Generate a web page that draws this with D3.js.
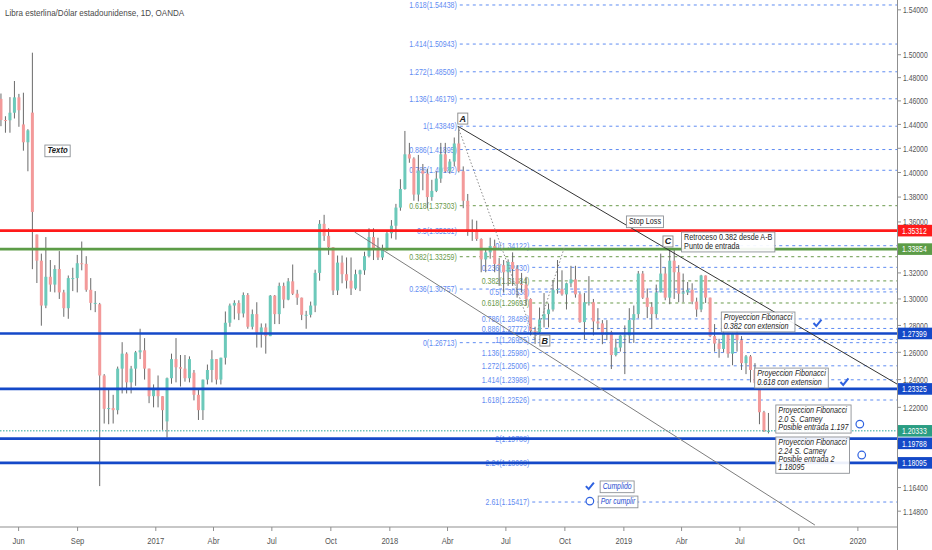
<!DOCTYPE html>
<html>
<head>
<meta charset="utf-8">
<script src="https://cdn.jsdelivr.net/npm/d3@7"></script>
<style>
  body { margin: 0; background: #fff; }
  text { font-family: "Liberation Sans", Arial, sans-serif; }
</style>
</head>
<body>
<svg id="chart" width="932" height="550"></svg>
<script>
// Velas semanales GBP/USD: [lunes, apertura, maximo, minimo, cierre]
const ohlc2016 = [
  ['2016-05-02', 1.4617, 1.4663, 1.4385, 1.4437], ['2016-05-09', 1.4437, 1.4469, 1.4330, 1.4435],
  ['2016-05-16', 1.4435, 1.4632, 1.4330, 1.4499], ['2016-05-23', 1.4499, 1.4771, 1.4450, 1.4630],
  ['2016-05-30', 1.4630, 1.4660, 1.4380, 1.4520], ['2016-06-06', 1.4400, 1.4670, 1.4180, 1.4250],
  ['2016-06-13', 1.4250, 1.4360, 1.4010, 1.4350], ['2016-06-20', 1.4500, 1.5018, 1.3229, 1.3680],
  ['2016-06-27', 1.3500, 1.3500, 1.3122, 1.3295], ['2016-07-04', 1.3295, 1.3350, 1.2798, 1.2950],
  ['2016-07-11', 1.2950, 1.3480, 1.2930, 1.3170], ['2016-07-18', 1.3170, 1.3300, 1.3055, 1.3110],
  ['2016-07-25', 1.3110, 1.3260, 1.3050, 1.3230], ['2016-08-01', 1.3230, 1.3370, 1.3000, 1.3050],
  ['2016-08-08', 1.3050, 1.3070, 1.2865, 1.2930], ['2016-08-15', 1.2930, 1.3180, 1.2850, 1.3160],
  ['2016-08-22', 1.3160, 1.3240, 1.3060, 1.3160], ['2016-08-29', 1.3160, 1.3340, 1.3050, 1.3275],
  ['2016-09-05', 1.3275, 1.3445, 1.3220, 1.3270], ['2016-09-12', 1.3270, 1.3330, 1.3055, 1.3070],
  ['2016-09-19', 1.3070, 1.3160, 1.2915, 1.2970], ['2016-09-26', 1.2970, 1.3060, 1.2900, 1.2970],
  ['2016-10-03', 1.2960, 1.2970, 1.1650, 1.2430], ['2016-10-10', 1.2430, 1.2440, 1.2085, 1.2190],
  ['2016-10-17', 1.2190, 1.2335, 1.2080, 1.2195], ['2016-10-24', 1.2195, 1.2290, 1.2085, 1.2180],
  ['2016-10-31', 1.2180, 1.2495, 1.2150, 1.2480], ['2016-11-07', 1.2480, 1.2675, 1.2300, 1.2590],
  ['2016-11-14', 1.2590, 1.2600, 1.2300, 1.2380], ['2016-11-21', 1.2380, 1.2500, 1.2300, 1.2480],
  ['2016-11-28', 1.2480, 1.2610, 1.2355, 1.2600], ['2016-12-05', 1.2600, 1.2775, 1.2550, 1.2615],
  ['2016-12-12', 1.2615, 1.2705, 1.2400, 1.2480], ['2016-12-19', 1.2480, 1.2480, 1.2230, 1.2280],
  ['2016-12-26', 1.2280, 1.2365, 1.2200, 1.2340]
]
const ohlc2017 = [
  ['2017-01-02', 1.2340, 1.2430, 1.2200, 1.2280], ['2017-01-09', 1.2280, 1.2280, 1.2040, 1.2180],
  ['2017-01-16', 1.2100, 1.2415, 1.1986, 1.2410], ['2017-01-23', 1.2410, 1.2590, 1.2370, 1.2550],
  ['2017-01-30', 1.2550, 1.2705, 1.2380, 1.2490], ['2017-02-06', 1.2490, 1.2580, 1.2350, 1.2480],
  ['2017-02-13', 1.2480, 1.2580, 1.2385, 1.2410], ['2017-02-20', 1.2410, 1.2570, 1.2380, 1.2550],
  ['2017-02-27', 1.2450, 1.2470, 1.2250, 1.2290], ['2017-03-06', 1.2290, 1.2330, 1.2110, 1.2180],
  ['2017-03-13', 1.2180, 1.2400, 1.2110, 1.2400], ['2017-03-20', 1.2400, 1.2510, 1.2365, 1.2470],
  ['2017-03-27', 1.2470, 1.2615, 1.2380, 1.2550], ['2017-04-03', 1.2550, 1.2550, 1.2365, 1.2400],
  ['2017-04-10', 1.2400, 1.2560, 1.2365, 1.2560], ['2017-04-17', 1.2560, 1.2905, 1.2510, 1.2820],
  ['2017-04-24', 1.2820, 1.2965, 1.2790, 1.2950], ['2017-05-01', 1.2950, 1.2990, 1.2845, 1.2970],
  ['2017-05-08', 1.2970, 1.2990, 1.2840, 1.2890], ['2017-05-15', 1.2890, 1.3050, 1.2860, 1.3030],
  ['2017-05-22', 1.3030, 1.3045, 1.2775, 1.2790], ['2017-05-29', 1.2790, 1.2920, 1.2770, 1.2885],
  ['2017-06-05', 1.2885, 1.2975, 1.2635, 1.2745], ['2017-06-12', 1.2745, 1.2815, 1.2635, 1.2785],
  ['2017-06-19', 1.2785, 1.2815, 1.2590, 1.2720], ['2017-06-26', 1.2720, 1.3030, 1.2720, 1.3025],
  ['2017-07-03', 1.3025, 1.3030, 1.2810, 1.2885], ['2017-07-10', 1.2885, 1.3125, 1.2810, 1.3100],
  ['2017-07-17', 1.3100, 1.3125, 1.2930, 1.2995], ['2017-07-24', 1.2995, 1.3160, 1.2990, 1.3135],
  ['2017-07-31', 1.3135, 1.3265, 1.3030, 1.3040], ['2017-08-07', 1.3040, 1.3070, 1.2955, 1.3010],
  ['2017-08-14', 1.3010, 1.3010, 1.2840, 1.2880], ['2017-08-21', 1.2880, 1.2910, 1.2775, 1.2880],
  ['2017-08-28', 1.2880, 1.2980, 1.2860, 1.2950], ['2017-09-04', 1.2950, 1.3225, 1.2900, 1.3200],
  ['2017-09-11', 1.3200, 1.3615, 1.3140, 1.3585], ['2017-09-18', 1.3585, 1.3657, 1.3450, 1.3490],
  ['2017-09-25', 1.3490, 1.3550, 1.3340, 1.3400], ['2017-10-02', 1.3400, 1.3400, 1.3030, 1.3065],
  ['2017-10-09', 1.3065, 1.3335, 1.3030, 1.3280], ['2017-10-16', 1.3280, 1.3335, 1.3120, 1.3190],
  ['2017-10-23', 1.3190, 1.3320, 1.3080, 1.3140], ['2017-10-30', 1.3140, 1.3320, 1.3030, 1.3080],
  ['2017-11-06', 1.3080, 1.3225, 1.3070, 1.3190], ['2017-11-13', 1.3190, 1.3225, 1.3060, 1.3220],
  ['2017-11-20', 1.3220, 1.3365, 1.3185, 1.3330], ['2017-11-27', 1.3330, 1.3550, 1.3320, 1.3480],
  ['2017-12-04', 1.3480, 1.3550, 1.3300, 1.3385], ['2017-12-11', 1.3385, 1.3475, 1.3300, 1.3320],
  ['2017-12-18', 1.3320, 1.3420, 1.3300, 1.3380], ['2017-12-25', 1.3380, 1.3525, 1.3370, 1.3510]
]
const ohlc2018 = [
  ['2018-01-01', 1.3510, 1.3615, 1.3470, 1.3570], ['2018-01-08', 1.3570, 1.3745, 1.3460, 1.3715],
  ['2018-01-15', 1.3715, 1.3945, 1.3690, 1.3865], ['2018-01-22', 1.3865, 1.4345, 1.3860, 1.4150],
  ['2018-01-29', 1.4150, 1.4245, 1.4080, 1.4115], ['2018-02-05', 1.4115, 1.4125, 1.3770, 1.3820],
  ['2018-02-12', 1.3820, 1.4145, 1.3765, 1.4015], ['2018-02-19', 1.4015, 1.4070, 1.3855, 1.3990],
  ['2018-02-26', 1.3990, 1.4030, 1.3710, 1.3800], ['2018-03-05', 1.3800, 1.3940, 1.3770, 1.3850],
  ['2018-03-12', 1.3850, 1.4010, 1.3840, 1.3950], ['2018-03-19', 1.3950, 1.4245, 1.3915, 1.4150],
  ['2018-03-26', 1.4150, 1.4245, 1.4000, 1.4010], ['2018-04-02', 1.4010, 1.4110, 1.3990, 1.4090],
  ['2018-04-09', 1.4090, 1.4290, 1.4050, 1.4240], ['2018-04-16', 1.4240, 1.4377, 1.4000, 1.4010],
  ['2018-04-23', 1.4010, 1.4050, 1.3710, 1.3770], ['2018-04-30', 1.3770, 1.3825, 1.3490, 1.3535],
  ['2018-05-07', 1.3535, 1.3620, 1.3450, 1.3535], ['2018-05-14', 1.3535, 1.3610, 1.3450, 1.3465],
  ['2018-05-21', 1.3465, 1.3470, 1.3205, 1.3305], ['2018-05-28', 1.3305, 1.3385, 1.3205, 1.3360],
  ['2018-06-04', 1.3360, 1.3475, 1.3310, 1.3410], ['2018-06-11', 1.3410, 1.3460, 1.3205, 1.3270],
  ['2018-06-18', 1.3270, 1.3315, 1.3100, 1.3260], ['2018-06-25', 1.3260, 1.3300, 1.3050, 1.3205],
  ['2018-07-02', 1.3205, 1.3305, 1.3100, 1.3285], ['2018-07-09', 1.3285, 1.3360, 1.3100, 1.3230],
  ['2018-07-16', 1.3230, 1.3260, 1.3010, 1.3115], ['2018-07-23', 1.3115, 1.3200, 1.3050, 1.3110],
  ['2018-07-30', 1.3110, 1.3170, 1.2950, 1.3000], ['2018-08-06', 1.3000, 1.3005, 1.2725, 1.2760],
  ['2018-08-13', 1.2760, 1.2790, 1.2662, 1.2750], ['2018-08-20', 1.2750, 1.2935, 1.2745, 1.2845],
  ['2018-08-27', 1.2845, 1.3045, 1.2785, 1.2885], ['2018-09-03', 1.2885, 1.2965, 1.2785, 1.2920],
  ['2018-09-10', 1.2920, 1.3145, 1.2905, 1.3070], ['2018-09-17', 1.3070, 1.3300, 1.3040, 1.3075],
  ['2018-09-24', 1.3075, 1.3220, 1.3025, 1.3035], ['2018-10-01', 1.3035, 1.3125, 1.2920, 1.3120],
  ['2018-10-08', 1.3120, 1.3255, 1.3090, 1.3150], ['2018-10-15', 1.3150, 1.3255, 1.3010, 1.3035],
  ['2018-10-22', 1.3035, 1.3050, 1.2820, 1.2825], ['2018-10-29', 1.2825, 1.3045, 1.2695, 1.2975],
  ['2018-11-05', 1.2975, 1.3175, 1.2950, 1.2975], ['2018-11-12', 1.2975, 1.3000, 1.2725, 1.2830],
  ['2018-11-19', 1.2830, 1.2930, 1.2770, 1.2815], ['2018-11-26', 1.2815, 1.2840, 1.2660, 1.2730],
  ['2018-12-03', 1.2730, 1.2840, 1.2690, 1.2750], ['2018-12-10', 1.2750, 1.2760, 1.2477, 1.2580],
  ['2018-12-17', 1.2580, 1.2700, 1.2570, 1.2635], ['2018-12-24', 1.2635, 1.2730, 1.2605, 1.2725],
  ['2018-12-31', 1.2725, 1.2800, 1.2440, 1.2725]
]
const ohlc2019 = [
  ['2019-01-07', 1.2725, 1.2930, 1.2670, 1.2840], ['2019-01-14', 1.2840, 1.2950, 1.2670, 1.2885],
  ['2019-01-21', 1.2885, 1.3215, 1.2855, 1.3195], ['2019-01-28', 1.3195, 1.3215, 1.3000, 1.3010],
  ['2019-02-04', 1.3010, 1.3080, 1.2855, 1.2940], ['2019-02-11', 1.2940, 1.2975, 1.2775, 1.2885],
  ['2019-02-18', 1.2885, 1.3110, 1.2855, 1.3050], ['2019-02-25', 1.3050, 1.3350, 1.3050, 1.3195],
  ['2019-03-04', 1.3195, 1.3245, 1.2990, 1.3010], ['2019-03-11', 1.3010, 1.3381, 1.2960, 1.3295],
  ['2019-03-18', 1.3295, 1.3380, 1.3000, 1.3205], ['2019-03-25', 1.3205, 1.3260, 1.2975, 1.3040],
  ['2019-04-01', 1.3040, 1.3195, 1.2975, 1.3050], ['2019-04-08', 1.3050, 1.3130, 1.3030, 1.3070],
  ['2019-04-15', 1.3070, 1.3120, 1.2960, 1.2980], ['2019-04-22', 1.2980, 1.3010, 1.2865, 1.2920],
  ['2019-04-29', 1.2920, 1.3185, 1.2900, 1.3180], ['2019-05-06', 1.3180, 1.3180, 1.2970, 1.3010],
  ['2019-05-13', 1.3010, 1.3010, 1.2712, 1.2720], ['2019-05-20', 1.2720, 1.2810, 1.2605, 1.2665],
  ['2019-05-27', 1.2665, 1.2700, 1.2560, 1.2625], ['2019-06-03', 1.2625, 1.2760, 1.2600, 1.2740],
  ['2019-06-10', 1.2740, 1.2745, 1.2560, 1.2590], ['2019-06-17', 1.2590, 1.2745, 1.2505, 1.2740],
  ['2019-06-24', 1.2740, 1.2785, 1.2605, 1.2690], ['2019-07-01', 1.2690, 1.2720, 1.2470, 1.2520],
  ['2019-07-08', 1.2520, 1.2580, 1.2440, 1.2570], ['2019-07-15', 1.2570, 1.2580, 1.2380, 1.2470],
  ['2019-07-22', 1.2470, 1.2520, 1.2370, 1.2375], ['2019-07-29', 1.2375, 1.2425, 1.2080, 1.2165],
  ['2019-08-05', 1.2165, 1.2175, 1.2025, 1.2030], ['2019-08-12', 1.2030, 1.2160, 1.2015, 1.2033]
]

// Retroceso Fibonacci A-B
const fib1Start = '2018-04-17'
const fib1Ratios = [1.618, 1.414, 1.272, 1.136, 1, 0.886, 0.786, 0.618, 0.5, 0.382, 0.236, 0]
const fib1Prices = [1.54438, 1.50943, 1.48509, 1.46179, 1.43849, 1.41895, 1.40182, 1.37303, 1.35281, 1.33259, 1.30757, 1.26713]
// Proyeccion Fibonacci B-C
const fib2Start = '2018-08-08'
const fib2Ratios = [0, 0.236, 0.382, 0.5, 0.618, 0.786, 0.886, 1, 1.136, 1.272, 1.414, 1.618, 2, 2.24, 2.61]
const fib2Prices = [1.34122, 1.32430, 1.31384, 1.30538, 1.29693, 1.28489, 1.27772, 1.26955, 1.25980, 1.25006, 1.23988, 1.22526, 1.19788, 1.18068, 1.15417]

// Niveles horizontales
const levelPrices = [1.35312, 1.33854, 1.27399, 1.23325, 1.19788, 1.18095]
const levelKinds = ['stop', 'entrada', 'objetivo', 'objetivo', 'objetivo', 'objetivo']
const lastPrice = 1.20333

// Lineas de tendencia [fecha, precio]
const trendA = [['2018-04-17', 1.43849], ['2020-03-02', 1.2368]]
const channelLow = [['2017-11-07', 1.3520], ['2019-10-26', 1.1387]]
const legAB = [['2018-04-17', 1.43849], ['2018-08-15', 1.26955]]
const legBC = [['2018-08-15', 1.26955], ['2018-10-01', 1.34122]]

// Puntos A, B, C
const pointNames = ['A', 'B', 'C']
const pointDates = ['2018-04-17', '2018-08-23', '2019-03-03']
const pointPrices = [1.4496, 1.2728, 1.3489]

// Notas de texto
const noteLines = [
  ['Texto'],
  ['Stop Loss'],
  ['Retroceso 0.382 desde A-B', 'Punto de entrada'],
  ['Proyeccion Fibonacci', '0.382 con extension'],
  ['Proyeccion Fibonacci', '0.618 con extension'],
  ['Proyeccion Fibonacci', '2.0 S. Carney', 'Posible entrada 1.197'],
  ['Proyeccion Fibonacci', '2.24 S. Carney', 'Posible entrada 2', '1.18095']
]
const noteDates = ['2016-07-12', '2019-01-05', '2019-04-01', '2019-06-02', '2019-07-24', '2019-08-26', '2019-08-26']
const notePrices = [1.4227, 1.3648, 1.3520, 1.2901, 1.2484, 1.2217, 1.1990]
const noteItalic = [true, false, false, true, true, true, true]

// Marcas: cumplido / por cumplir
const checkDates = ['2019-10-30', '2019-12-11', '2018-11-09']
const checkPrices = [1.2818, 1.2383, 1.1650]
const ringDates = ['2020-01-04', '2020-01-07', '2018-11-09']
const ringPrices = [1.2081, 1.1864, 1.1548]
const legendLabels = ['Cumplido', 'Por cumplir']
const legendDates = ['2018-11-25', '2018-11-22']
const legendPrices = [1.1685, 1.1582]

// Ejes (1.34, 1.20 y 1.18 quedan tapados por las etiquetas de precio)
const yTicks = [1.54, 1.50, 1.48, 1.46, 1.44, 1.42, 1.40, 1.38, 1.36, 1.32, 1.30, 1.28, 1.26, 1.24, 1.22, 1.164, 1.148]
const xTickDates = ['2016-06-01', '2016-09-01', '2017-01-01', '2017-04-01', '2017-07-01', '2017-10-01', '2018-01-01',
  '2018-04-01', '2018-07-01', '2018-10-01', '2019-01-01', '2019-04-01', '2019-07-01', '2019-10-01', '2020-01-01']
const xTickLabels = ['Jun', 'Sep', '2017', 'Abr', 'Jul', 'Oct', '2018', 'Abr', 'Jul', 'Oct', '2019', 'Abr', 'Jul', 'Oct', '2020']
const title = 'Libra esterlina/Dólar estadounidense, 1D, OANDA'

const W = 932, H = 550, plotW = 897, plotH = 527
const parse = d3.utcParse('%Y-%m-%d')
const x = d3.scaleUtc().domain([parse('2016-05-03'), parse('2020-03-02')]).range([0, plotW])
const y = d3.scaleLog().domain([1.1374, 1.5489]).range([plotH, 0])

const BLUE_FIB = '#5f8cf2', GREEN_FIB = '#6a9a4c', MARK = '#2f62e0'
const levelColor = { stop: '#ff1a1a', entrada: '#5c9c47', objetivo: '#1449c8' }

const svg = d3.select('#chart')

/**
 * Texto comprimido horizontalmente (la fuente de la captura es estrecha)
 */
function addText (g, px, py, k, str) {
  return g.append('text').attr('transform', `translate(${px},${py}) scale(${k},1)`).text(str)
}

function drawFib (g, start, ratios, prices) {
  const x0 = x(parse(start))
  ratios.forEach((r, i) => {
    const col = (r === 0.618 || r === 0.382) ? GREEN_FIB : BLUE_FIB
    const yy = y(prices[i])
    g.append('line').attr('x1', x0 + 2).attr('x2', plotW).attr('y1', yy).attr('y2', yy)
      .attr('stroke', col).attr('stroke-width', 1).attr('stroke-dasharray', '3,3.5')
    addText(g, x0 - 1, yy, 0.78, r + '(' + prices[i].toFixed(5) + ')')
      .attr('dy', '0.35em').attr('text-anchor', 'end').attr('font-size', 9).attr('fill', col)
  })
}

function drawCandles (g, rows) {
  const cx = d => x(d3.utcHour.offset(parse(d[0]), 60))
  const c = g.selectAll(null).data(rows).enter().append('g')
  c.append('line')
    .attr('x1', cx).attr('x2', cx)
    .attr('y1', d => y(d[2])).attr('y2', d => y(d[3]))
    .attr('stroke', '#6a6a6a').attr('stroke-width', 1)
  c.append('rect')
    .attr('x', d => cx(d) - 1.5).attr('width', 3)
    .attr('y', d => y(Math.max(d[1], d[4])))
    .attr('height', d => Math.max(1, y(Math.min(d[1], d[4])) - y(Math.max(d[1], d[4]))))
    .attr('fill', d => d[4] >= d[1] ? '#6cc9ba' : '#f39a9a')
}

function drawSegment (g, pts, stroke, dash) {
  g.append('line')
    .attr('x1', x(parse(pts[0][0]))).attr('y1', y(pts[0][1]))
    .attr('x2', x(parse(pts[1][0]))).attr('y2', y(pts[1][1]))
    .attr('stroke', stroke).attr('stroke-width', 1).attr('stroke-dasharray', dash)
}

function drawNote (g, lines, x0, y0, opts) {
  const n = g.append('g')
  const box = n.append('rect').attr('fill', '#fff').attr('fill-opacity', 0.92)
    .attr('stroke', '#8d9196').attr('stroke-width', 0.9)
  let wMax = 0
  lines.forEach((s, i) => {
    const t = addText(n, x0 + 2.5, y0 + 8.4 + i * 8.2, opts.k, s)
      .attr('font-size', opts.size || 8.6).attr('font-style', opts.italic ? 'italic' : 'normal')
      .attr('font-weight', opts.bold ? 'bold' : 'normal')
      .attr('font-family', opts.font).attr('fill', opts.fill)
    wMax = Math.max(wMax, t.node().getComputedTextLength() * opts.k)
  })
  box.attr('x', x0).attr('y', y0).attr('width', wMax + 5).attr('height', lines.length * 8.2 + 3.5)
}

function drawCheck (g, cx, cy) {
  g.append('path').attr('d', `M${cx - 4},${cy} L${cx - 1.2},${cy + 3} L${cx + 4},${cy - 3.5}`)
    .attr('fill', 'none').attr('stroke', MARK).attr('stroke-width', 2)
}

function drawRing (g, cx, cy) {
  g.append('circle').attr('cx', cx).attr('cy', cy).attr('r', 3.8)
    .attr('fill', '#fff').attr('stroke', MARK).attr('stroke-width', 1.2)
}

// Fibonacci (debajo de todo)
const fibG = svg.append('g')
drawFib(fibG, fib1Start, fib1Ratios, fib1Prices)
drawFib(fibG, fib2Start, fib2Ratios, fib2Prices)

// Velas
const candleG = svg.append('g')
drawCandles(candleG, ohlc2016.concat(ohlc2017, ohlc2018, ohlc2019))

// Precio actual
svg.append('line').attr('x1', 0).attr('x2', plotW).attr('y1', y(lastPrice)).attr('y2', y(lastPrice))
  .attr('stroke', '#26a69a').attr('stroke-width', 1).attr('stroke-dasharray', '1.5,1.5')

// Niveles solidos
levelPrices.forEach((p, i) => {
  svg.append('line').attr('x1', 0).attr('x2', plotW).attr('y1', y(p)).attr('y2', y(p))
    .attr('stroke', levelColor[levelKinds[i]]).attr('stroke-width', 2.6)
})

// Tendencias
const trendG = svg.append('g')
drawSegment(trendG, trendA, '#333', null)
drawSegment(trendG, channelLow, '#7d7d7d', null)
drawSegment(trendG, legAB, '#8a8a8a', '1.5,2')
drawSegment(trendG, legBC, '#8a8a8a', '1.5,2')

// Notas y puntos
const noteG = svg.append('g')
noteLines.forEach((lines, i) => {
  drawNote(noteG, lines, x(parse(noteDates[i])), y(notePrices[i]),
    { italic: noteItalic[i], bold: i === 0, size: i === 0 ? 9.2 : 8.6, fill: '#1e1e1e', k: 0.84 })
})
pointNames.forEach((s, i) => {
  const px = x(parse(pointDates[i])), py = y(pointPrices[i])
  noteG.append('rect').attr('x', px).attr('y', py).attr('width', 10).attr('height', 11)
    .attr('fill', '#fff').attr('stroke', '#888').attr('stroke-width', 0.9)
  noteG.append('text').attr('x', px + 5).attr('y', py + 8.5).attr('text-anchor', 'middle')
    .attr('font-size', 9).attr('font-style', 'italic').attr('font-weight', 'bold').attr('fill', '#222').text(s)
})
checkDates.forEach((d, i) => drawCheck(noteG, x(parse(d)), y(checkPrices[i])))
ringDates.forEach((d, i) => drawRing(noteG, x(parse(d)), y(ringPrices[i])))
legendLabels.forEach((s, i) => {
  drawNote(noteG, [s], x(parse(legendDates[i])), y(legendPrices[i]),
    { italic: true, fill: '#2a4fd0', font: '"Liberation Serif", serif', k: 0.8 })
})

// Titulo
addText(svg, 5, 16, 0.84, title).attr('font-size', 9.6).attr('fill', '#4a4a4a')

// Ejes
const axisG = svg.append('g')
axisG.append('rect').attr('x', plotW).attr('y', 0).attr('width', W - plotW).attr('height', H).attr('fill', '#fff')
axisG.append('rect').attr('x', 0).attr('y', plotH).attr('width', plotW).attr('height', H - plotH).attr('fill', '#fff')
axisG.append('line').attr('x1', plotW + 0.5).attr('x2', plotW + 0.5).attr('y1', 0).attr('y2', H)
  .attr('stroke', '#8f8f8f').attr('stroke-width', 1)
axisG.append('line').attr('x1', 0).attr('x2', plotW).attr('y1', plotH).attr('y2', plotH)
  .attr('stroke', '#b4b4b4').attr('stroke-width', 1.6)

yTicks.forEach(v => {
  axisG.append('line').attr('x1', plotW).attr('x2', plotW + 4).attr('y1', y(v)).attr('y2', y(v)).attr('stroke', '#8f8f8f')
  addText(axisG, plotW + 6, y(v), 0.72, v.toFixed(5))
    .attr('dy', '0.35em').attr('font-size', 9.5).attr('fill', '#555')
})

xTickDates.forEach((d, i) => {
  const xx = x(parse(d))
  axisG.append('line').attr('x1', xx).attr('x2', xx).attr('y1', plotH).attr('y2', plotH + 4).attr('stroke', '#8f8f8f')
  addText(axisG, xx, plotH + 17, 0.8, xTickLabels[i])
    .attr('text-anchor', 'middle').attr('font-size', 9.5).attr('fill', '#555')
})

// Etiquetas de precio coloreadas, separadas si se solapan
const priceTags = levelPrices.map((p, i) => ({ p, col: levelColor[levelKinds[i]] }))
  .concat([{ p: lastPrice, col: '#2a9d83' }])
  .map(t => Object.assign(t, { cy: y(t.p) }))
  .sort((a, b) => a.cy - b.cy)
priceTags.forEach((t, i) => {
  if (i > 0 && t.cy - priceTags[i - 1].cy < 12.5) t.cy = priceTags[i - 1].cy + 12.5
})
priceTags.forEach(t => {
  axisG.append('rect').attr('x', plotW + 1).attr('y', t.cy - 5.8).attr('width', W - plotW - 1).attr('height', 11.6).attr('fill', t.col)
  addText(axisG, plotW + 5, t.cy, 0.72, t.p.toFixed(5))
    .attr('dy', '0.35em').attr('font-size', 9.5).attr('fill', '#fff')
})
</script>
</body>
</html>
